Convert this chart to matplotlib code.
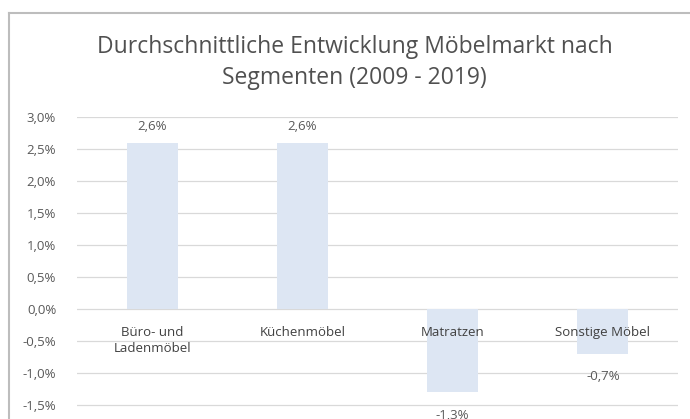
import matplotlib.pyplot as plt
from matplotlib.lines import Line2D
from matplotlib.ticker import FuncFormatter, MultipleLocator

# average yearly growth per furniture segment, 2009-2019
segments = ["Büro- und\nLadenmöbel", "Küchenmöbel", "Matratzen", "Sonstige Möbel"]
growth = [2.6, 2.6, -1.3, -0.7]
value_labels = ["2,6%", "2,6%", "-1,3%", "-0,7%"]

plt.rcParams['font.family'] = ['Open Sans', 'DejaVu Sans']

fig = plt.figure(figsize=(6.9, 4.19), dpi=100)
fig.patch.set_facecolor('white')

# plot area runs below the bottom edge of the image (axis goes to -2,0%)
ax = fig.add_axes([0.1116, -0.043, 0.871, 0.7637])
x = range(len(segments))
bars = ax.bar(x, growth, width=0.34, color='#dde6f3', zorder=2)

ax.set_xlim(-0.5, len(segments) - 0.5)
ax.set_ylim(-2.0, 3.0)
ax.yaxis.set_major_locator(MultipleLocator(0.5))
ax.yaxis.set_major_formatter(FuncFormatter(lambda v, p: f"{v:.1f}%".replace('.', ',')))
ax.grid(axis='y', color='#d9d9d9', linewidth=0.9, zorder=0)
ax.tick_params(axis='y', length=0, pad=15, labelsize=9.5, labelcolor='#595959')
for lbl in ax.get_yticklabels():
    lbl.set_horizontalalignment('right')
ax.set_xticks([])
for s in ax.spines.values():
    s.set_visible(False)

# category names sit just under the zero line
for i, name in enumerate(segments):
    ax.annotate(name, (i, 0), xytext=(0, -12.5), textcoords='offset points',
                ha='center', va='top', fontsize=9.5, color='#404040', linespacing=1.25)

# value labels outside the bar ends
for i, (v, txt) in enumerate(zip(growth, value_labels)):
    off = 7 if v >= 0 else -12
    ax.annotate(txt, (i, v), xytext=(0, off), textcoords='offset points',
                ha='center', va='bottom' if v >= 0 else 'top',
                fontsize=9.5, color='#595959')

fig.text(0.514, 0.851, "Durchschnittliche Entwicklung Möbelmarkt nach\nSegmenten (2009 - 2019)",
         ha='center', va='center', fontsize=16.5, color='#505050', linespacing=1.4)

# chart frame (top and left edges)
fig.add_artist(Line2D([0.0135, 1.0], [0.970, 0.970], color='#bdbdbd', linewidth=1.5))
fig.add_artist(Line2D([0.0135, 0.0135], [0.0, 0.970], color='#bdbdbd', linewidth=1.5))

fig.savefig("out.png", dpi=100)
